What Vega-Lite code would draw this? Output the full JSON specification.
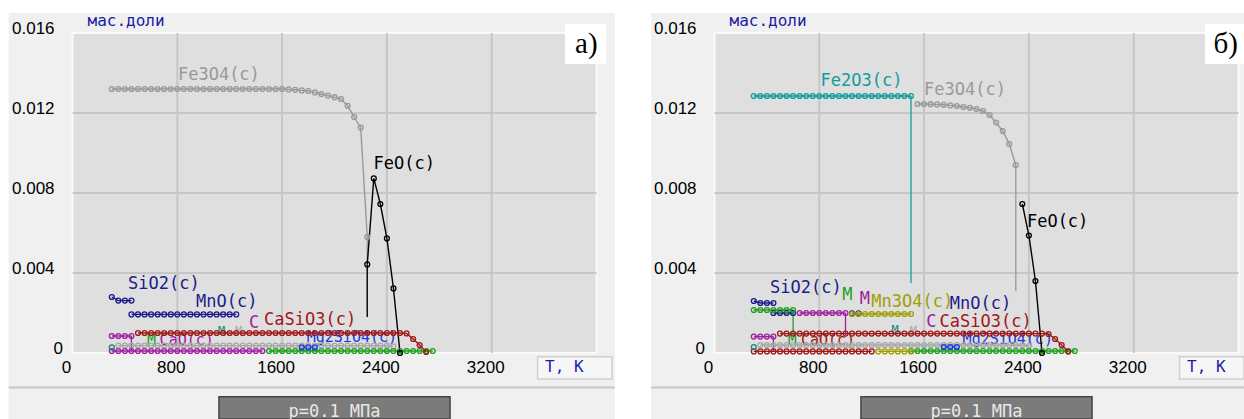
{
"$schema": "https://vega.github.io/schema/vega-lite/v6.json",
"padding": 0,
"spacing": 0,
"bounds": "flush",
"background": "#ffffff",
"config": {"view": {"stroke": null}},
"datasets": {
"ptsA": [
{"s":"MgO","T":350,"v":0.00037},{"s":"MgO","T":400,"v":0.00037},{"s":"MgO","T":450,"v":0.00037},{"s":"MgO","T":500,"v":0.00037},{"s":"MgO","T":550,"v":0.00037},{"s":"MgO","T":600,"v":0.00037},{"s":"MgO","T":650,"v":0.00037},{"s":"MgO","T":700,"v":0.00037},{"s":"MgO","T":750,"v":0.00037},{"s":"MgO","T":800,"v":0.00037},{"s":"MgO","T":850,"v":0.00037},{"s":"MgO","T":900,"v":0.00037},{"s":"MgO","T":950,"v":0.00037},{"s":"MgO","T":1000,"v":0.00037},{"s":"MgO","T":1050,"v":0.00037},{"s":"MgO","T":1100,"v":0.00037},{"s":"MgO","T":1150,"v":0.00037},{"s":"MgO","T":1200,"v":0.00037},{"s":"MgO","T":1250,"v":0.00037},{"s":"MgO","T":1300,"v":0.00037},{"s":"MgO","T":1350,"v":0.00037},{"s":"MgO","T":1400,"v":0.00037},{"s":"MgO","T":1450,"v":0.00037},{"s":"MgO","T":1500,"v":0.00037},{"s":"MgO","T":1550,"v":0.00037},{"s":"MgO","T":1600,"v":0.00037},{"s":"MgO","T":1650,"v":0.00037},{"s":"MgO","T":1700,"v":0.00037},{"s":"MgO","T":1750,"v":0.00037},{"s":"MgO","T":1800,"v":0.00037},{"s":"MgO","T":1850,"v":0.00037},{"s":"MgO","T":1900,"v":0.00037},{"s":"MgO","T":1950,"v":0.00037},{"s":"MgO","T":2000,"v":0.00037},{"s":"MgO","T":2050,"v":0.00037},{"s":"MgO","T":2100,"v":0.00037},{"s":"MgO","T":2150,"v":0.00037},{"s":"MgO","T":2200,"v":0.00037},{"s":"MgO","T":2250,"v":0.00037},{"s":"MgO","T":2300,"v":0.00037},{"s":"MgO","T":2350,"v":0.00037},{"s":"MgO","T":2400,"v":0.00037},{"s":"MgO","T":2450,"v":0.00033},
{"s":"Mn2SiO4","T":1500,"v":0.0001},{"s":"Mn2SiO4","T":1550,"v":0.0001},{"s":"Mn2SiO4","T":1600,"v":0.0001},{"s":"Mn2SiO4","T":1650,"v":0.0001},{"s":"Mn2SiO4","T":1700,"v":0.0001},{"s":"Mn2SiO4","T":1750,"v":0.0001},{"s":"Mn2SiO4","T":1800,"v":0.0001},{"s":"Mn2SiO4","T":1850,"v":0.0001},{"s":"Mn2SiO4","T":1900,"v":0.0001},{"s":"Mn2SiO4","T":1950,"v":0.0001},{"s":"Mn2SiO4","T":2000,"v":0.0001},{"s":"Mn2SiO4","T":2050,"v":0.0001},{"s":"Mn2SiO4","T":2100,"v":0.0001},{"s":"Mn2SiO4","T":2150,"v":0.0001},{"s":"Mn2SiO4","T":2200,"v":0.0001},{"s":"Mn2SiO4","T":2250,"v":0.0001},{"s":"Mn2SiO4","T":2300,"v":0.0001},{"s":"Mn2SiO4","T":2350,"v":0.0001},{"s":"Mn2SiO4","T":2400,"v":0.0001},{"s":"Mn2SiO4","T":2450,"v":0.0001},{"s":"Mn2SiO4","T":2500,"v":0.0001},{"s":"Mn2SiO4","T":2550,"v":0.0001},{"s":"Mn2SiO4","T":2600,"v":0.0001},{"s":"Mn2SiO4","T":2650,"v":0.0001},{"s":"Mn2SiO4","T":2700,"v":0.0001},{"s":"Mn2SiO4","T":2750,"v":0.0001},
{"s":"CaO","T":300,"v":0.0001},{"s":"CaO","T":350,"v":0.0001},{"s":"CaO","T":400,"v":0.0001},{"s":"CaO","T":450,"v":0.0001},{"s":"CaO","T":500,"v":0.0001},{"s":"CaO","T":550,"v":0.0001},{"s":"CaO","T":600,"v":0.0001},{"s":"CaO","T":650,"v":0.0001},{"s":"CaO","T":700,"v":0.0001},{"s":"CaO","T":750,"v":0.0001},{"s":"CaO","T":800,"v":0.0001},{"s":"CaO","T":850,"v":0.0001},{"s":"CaO","T":900,"v":0.0001},{"s":"CaO","T":950,"v":0.0001},{"s":"CaO","T":1000,"v":0.0001},{"s":"CaO","T":1050,"v":0.0001},{"s":"CaO","T":1100,"v":0.0001},{"s":"CaO","T":1150,"v":0.0001},{"s":"CaO","T":1200,"v":0.0001},{"s":"CaO","T":1250,"v":0.0001},{"s":"CaO","T":1300,"v":0.0001},{"s":"CaO","T":1350,"v":0.0001},{"s":"CaO","T":1400,"v":0.0001},{"s":"CaO","T":1450,"v":0.0001},
{"s":"MgAl2O4","T":300,"v":0.00028},
{"s":"Mg2SiO4","T":1750,"v":0.00028},{"s":"Mg2SiO4","T":1800,"v":0.00028},{"s":"Mg2SiO4","T":1850,"v":0.00028},
{"s":"CaCO3","T":300,"v":0.00085},{"s":"CaCO3","T":350,"v":0.00085},{"s":"CaCO3","T":400,"v":0.00085},{"s":"CaCO3","T":450,"v":0.00085},
{"s":"MnO","T":450,"v":0.00193},{"s":"MnO","T":500,"v":0.00193},{"s":"MnO","T":550,"v":0.00193},{"s":"MnO","T":600,"v":0.00193},{"s":"MnO","T":650,"v":0.00193},{"s":"MnO","T":700,"v":0.00193},{"s":"MnO","T":750,"v":0.00193},{"s":"MnO","T":800,"v":0.00193},{"s":"MnO","T":850,"v":0.00193},{"s":"MnO","T":900,"v":0.00193},{"s":"MnO","T":950,"v":0.00193},{"s":"MnO","T":1000,"v":0.00193},{"s":"MnO","T":1050,"v":0.00193},{"s":"MnO","T":1100,"v":0.00193},{"s":"MnO","T":1150,"v":0.00193},{"s":"MnO","T":1200,"v":0.00193},{"s":"MnO","T":1250,"v":0.00193},
{"s":"SiO2","T":300,"v":0.0028},{"s":"SiO2","T":350,"v":0.00262},{"s":"SiO2","T":400,"v":0.00262},{"s":"SiO2","T":450,"v":0.00262},
{"s":"CaSiO3","T":500,"v":0.001},{"s":"CaSiO3","T":550,"v":0.001},{"s":"CaSiO3","T":600,"v":0.001},{"s":"CaSiO3","T":650,"v":0.001},{"s":"CaSiO3","T":700,"v":0.001},{"s":"CaSiO3","T":750,"v":0.001},{"s":"CaSiO3","T":800,"v":0.001},{"s":"CaSiO3","T":850,"v":0.001},{"s":"CaSiO3","T":900,"v":0.001},{"s":"CaSiO3","T":950,"v":0.001},{"s":"CaSiO3","T":1000,"v":0.001},{"s":"CaSiO3","T":1050,"v":0.001},{"s":"CaSiO3","T":1100,"v":0.001},{"s":"CaSiO3","T":1150,"v":0.001},{"s":"CaSiO3","T":1200,"v":0.001},{"s":"CaSiO3","T":1250,"v":0.001},{"s":"CaSiO3","T":1300,"v":0.001},{"s":"CaSiO3","T":1350,"v":0.001},{"s":"CaSiO3","T":1400,"v":0.001},{"s":"CaSiO3","T":1450,"v":0.001},{"s":"CaSiO3","T":1500,"v":0.001},{"s":"CaSiO3","T":1550,"v":0.001},{"s":"CaSiO3","T":1600,"v":0.001},{"s":"CaSiO3","T":1650,"v":0.001},{"s":"CaSiO3","T":1700,"v":0.001},{"s":"CaSiO3","T":1750,"v":0.001},{"s":"CaSiO3","T":1800,"v":0.001},{"s":"CaSiO3","T":1850,"v":0.001},{"s":"CaSiO3","T":1900,"v":0.001},{"s":"CaSiO3","T":1950,"v":0.001},{"s":"CaSiO3","T":2000,"v":0.001},{"s":"CaSiO3","T":2050,"v":0.001},{"s":"CaSiO3","T":2100,"v":0.001},{"s":"CaSiO3","T":2150,"v":0.001},{"s":"CaSiO3","T":2200,"v":0.001},{"s":"CaSiO3","T":2250,"v":0.001},{"s":"CaSiO3","T":2300,"v":0.001},{"s":"CaSiO3","T":2350,"v":0.001},{"s":"CaSiO3","T":2400,"v":0.001},{"s":"CaSiO3","T":2450,"v":0.001},{"s":"CaSiO3","T":2500,"v":0.001},{"s":"CaSiO3","T":2550,"v":0.00098},{"s":"CaSiO3","T":2600,"v":0.0007},{"s":"CaSiO3","T":2650,"v":0.0004},{"s":"CaSiO3","T":2700,"v":0.00005},
{"s":"Fe3O4","T":300,"v":0.0132},{"s":"Fe3O4","T":350,"v":0.0132},{"s":"Fe3O4","T":400,"v":0.0132},{"s":"Fe3O4","T":450,"v":0.0132},{"s":"Fe3O4","T":500,"v":0.0132},{"s":"Fe3O4","T":550,"v":0.0132},{"s":"Fe3O4","T":600,"v":0.0132},{"s":"Fe3O4","T":650,"v":0.0132},{"s":"Fe3O4","T":700,"v":0.0132},{"s":"Fe3O4","T":750,"v":0.0132},{"s":"Fe3O4","T":800,"v":0.0132},{"s":"Fe3O4","T":850,"v":0.0132},{"s":"Fe3O4","T":900,"v":0.0132},{"s":"Fe3O4","T":950,"v":0.0132},{"s":"Fe3O4","T":1000,"v":0.0132},{"s":"Fe3O4","T":1050,"v":0.0132},{"s":"Fe3O4","T":1100,"v":0.0132},{"s":"Fe3O4","T":1150,"v":0.0132},{"s":"Fe3O4","T":1200,"v":0.0132},{"s":"Fe3O4","T":1250,"v":0.0132},{"s":"Fe3O4","T":1300,"v":0.0132},{"s":"Fe3O4","T":1350,"v":0.0132},{"s":"Fe3O4","T":1400,"v":0.0132},{"s":"Fe3O4","T":1450,"v":0.0132},{"s":"Fe3O4","T":1500,"v":0.0132},{"s":"Fe3O4","T":1550,"v":0.0132},{"s":"Fe3O4","T":1600,"v":0.0132},{"s":"Fe3O4","T":1650,"v":0.01318},{"s":"Fe3O4","T":1700,"v":0.01316},{"s":"Fe3O4","T":1750,"v":0.01313},{"s":"Fe3O4","T":1800,"v":0.0131},{"s":"Fe3O4","T":1850,"v":0.01303},{"s":"Fe3O4","T":1900,"v":0.01295},{"s":"Fe3O4","T":1950,"v":0.01287},{"s":"Fe3O4","T":2000,"v":0.01279},{"s":"Fe3O4","T":2050,"v":0.0127},{"s":"Fe3O4","T":2100,"v":0.01236},{"s":"Fe3O4","T":2150,"v":0.0118},{"s":"Fe3O4","T":2200,"v":0.01127},{"s":"Fe3O4","T":2250,"v":0.0058},
{"s":"FeO","T":2250,"v":0.00443},{"s":"FeO","T":2300,"v":0.00873},{"s":"FeO","T":2350,"v":0.00745},{"s":"FeO","T":2400,"v":0.00573},{"s":"FeO","T":2450,"v":0.00323},{"s":"FeO","T":2500,"v":0.0}
],
"ptsB": [
{"s":"MgO","T":350,"v":0.0004},{"s":"MgO","T":400,"v":0.0004},{"s":"MgO","T":450,"v":0.0004},{"s":"MgO","T":500,"v":0.0004},{"s":"MgO","T":550,"v":0.0004},{"s":"MgO","T":600,"v":0.0004},{"s":"MgO","T":650,"v":0.0004},{"s":"MgO","T":700,"v":0.0004},{"s":"MgO","T":750,"v":0.0004},{"s":"MgO","T":800,"v":0.0004},{"s":"MgO","T":850,"v":0.0004},{"s":"MgO","T":900,"v":0.0004},{"s":"MgO","T":950,"v":0.0004},{"s":"MgO","T":1000,"v":0.0004},{"s":"MgO","T":1050,"v":0.0004},{"s":"MgO","T":1100,"v":0.0004},{"s":"MgO","T":1150,"v":0.0004},{"s":"MgO","T":1200,"v":0.0004},{"s":"MgO","T":1250,"v":0.0004},{"s":"MgO","T":1300,"v":0.0004},{"s":"MgO","T":1350,"v":0.0004},{"s":"MgO","T":1400,"v":0.0004},{"s":"MgO","T":1450,"v":0.0004},{"s":"MgO","T":1500,"v":0.0004},{"s":"MgO","T":1550,"v":0.0004},{"s":"MgO","T":1600,"v":0.0004},{"s":"MgO","T":1650,"v":0.0004},{"s":"MgO","T":1700,"v":0.0004},{"s":"MgO","T":1750,"v":0.0004},{"s":"MgO","T":1800,"v":0.0004},{"s":"MgO","T":1850,"v":0.0004},{"s":"MgO","T":1900,"v":0.0004},{"s":"MgO","T":1950,"v":0.0004},{"s":"MgO","T":2000,"v":0.0004},{"s":"MgO","T":2050,"v":0.0004},{"s":"MgO","T":2100,"v":0.0004},{"s":"MgO","T":2150,"v":0.0004},{"s":"MgO","T":2200,"v":0.0004},{"s":"MgO","T":2250,"v":0.0004},{"s":"MgO","T":2300,"v":0.0004},{"s":"MgO","T":2350,"v":0.0004},{"s":"MgO","T":2400,"v":0.00035},
{"s":"Mn2SiO4","T":1500,"v":0.0001},{"s":"Mn2SiO4","T":1550,"v":0.0001},{"s":"Mn2SiO4","T":1600,"v":0.0001},{"s":"Mn2SiO4","T":1650,"v":0.0001},{"s":"Mn2SiO4","T":1700,"v":0.0001},{"s":"Mn2SiO4","T":1750,"v":0.0001},{"s":"Mn2SiO4","T":1800,"v":0.0001},{"s":"Mn2SiO4","T":1850,"v":0.0001},{"s":"Mn2SiO4","T":1900,"v":0.0001},{"s":"Mn2SiO4","T":1950,"v":0.0001},{"s":"Mn2SiO4","T":2000,"v":0.0001},{"s":"Mn2SiO4","T":2050,"v":0.0001},{"s":"Mn2SiO4","T":2100,"v":0.0001},{"s":"Mn2SiO4","T":2150,"v":0.0001},{"s":"Mn2SiO4","T":2200,"v":0.0001},{"s":"Mn2SiO4","T":2250,"v":0.0001},{"s":"Mn2SiO4","T":2300,"v":0.0001},{"s":"Mn2SiO4","T":2350,"v":0.0001},{"s":"Mn2SiO4","T":2400,"v":0.0001},{"s":"Mn2SiO4","T":2450,"v":0.0001},{"s":"Mn2SiO4","T":2500,"v":0.0001},{"s":"Mn2SiO4","T":2550,"v":0.0001},{"s":"Mn2SiO4","T":2600,"v":0.0001},{"s":"Mn2SiO4","T":2650,"v":0.0001},{"s":"Mn2SiO4","T":2700,"v":0.0001},{"s":"Mn2SiO4","T":2750,"v":0.0001},
{"s":"CaOr","T":300,"v":0.00008},{"s":"CaOr","T":350,"v":0.00008},{"s":"CaOr","T":400,"v":0.00008},{"s":"CaOr","T":450,"v":0.00008},{"s":"CaOr","T":500,"v":0.00008},{"s":"CaOr","T":550,"v":0.00008},{"s":"CaOr","T":600,"v":0.00008},{"s":"CaOr","T":650,"v":0.00008},{"s":"CaOr","T":700,"v":0.00008},{"s":"CaOr","T":750,"v":0.00008},{"s":"CaOr","T":800,"v":0.00008},{"s":"CaOr","T":850,"v":0.00008},{"s":"CaOr","T":900,"v":0.00008},{"s":"CaOr","T":950,"v":0.00008},{"s":"CaOr","T":1000,"v":0.00008},{"s":"CaOr","T":1050,"v":0.00008},{"s":"CaOr","T":1100,"v":0.00008},{"s":"CaOr","T":1150,"v":0.00008},{"s":"CaOr","T":1200,"v":0.00008},
{"s":"Mn3O4lo","T":1250,"v":0.00008},{"s":"Mn3O4lo","T":1300,"v":0.00008},{"s":"Mn3O4lo","T":1350,"v":0.00008},{"s":"Mn3O4lo","T":1400,"v":0.00008},{"s":"Mn3O4lo","T":1450,"v":0.00008},{"s":"Mn3O4lo","T":1500,"v":0.00008},
{"s":"MgAl2O4","T":300,"v":0.0003},
{"s":"Mg2SiO4","T":1750,"v":0.0003},{"s":"Mg2SiO4","T":1800,"v":0.0003},{"s":"Mg2SiO4","T":1850,"v":0.0003},
{"s":"CaCO3","T":300,"v":0.00082},{"s":"CaCO3","T":350,"v":0.00082},{"s":"CaCO3","T":400,"v":0.00082},{"s":"CaCO3","T":450,"v":0.00082},
{"s":"MnO","T":450,"v":0.002},{"s":"MnO","T":500,"v":0.002},{"s":"MnO","T":550,"v":0.002},{"s":"MnO","T":600,"v":0.002},
{"s":"MnO2","T":300,"v":0.00215},{"s":"MnO2","T":350,"v":0.00215},{"s":"MnO2","T":400,"v":0.00215},{"s":"MnO2","T":450,"v":0.00215},{"s":"MnO2","T":500,"v":0.00215},{"s":"MnO2","T":550,"v":0.00215},{"s":"MnO2","T":600,"v":0.00215},
{"s":"Mn2O3","T":650,"v":0.002},{"s":"Mn2O3","T":700,"v":0.002},{"s":"Mn2O3","T":750,"v":0.002},{"s":"Mn2O3","T":800,"v":0.002},{"s":"Mn2O3","T":850,"v":0.002},{"s":"Mn2O3","T":900,"v":0.002},{"s":"Mn2O3","T":950,"v":0.002},{"s":"Mn2O3","T":1000,"v":0.002},
{"s":"MnOb","T":1050,"v":0.00198},{"s":"MnOb","T":1100,"v":0.00198},
{"s":"Mn3O4","T":1050,"v":0.00195},{"s":"Mn3O4","T":1100,"v":0.00195},{"s":"Mn3O4","T":1150,"v":0.00195},{"s":"Mn3O4","T":1200,"v":0.00195},{"s":"Mn3O4","T":1250,"v":0.00195},{"s":"Mn3O4","T":1300,"v":0.00195},{"s":"Mn3O4","T":1350,"v":0.00195},{"s":"Mn3O4","T":1400,"v":0.00195},{"s":"Mn3O4","T":1450,"v":0.00195},{"s":"Mn3O4","T":1500,"v":0.00195},
{"s":"SiO2","T":300,"v":0.0026},{"s":"SiO2","T":350,"v":0.0025},{"s":"SiO2","T":400,"v":0.0025},{"s":"SiO2","T":450,"v":0.0025},
{"s":"CaSiO3","T":500,"v":0.00097},{"s":"CaSiO3","T":550,"v":0.00097},{"s":"CaSiO3","T":600,"v":0.00097},{"s":"CaSiO3","T":650,"v":0.00097},{"s":"CaSiO3","T":700,"v":0.00097},{"s":"CaSiO3","T":750,"v":0.00097},{"s":"CaSiO3","T":800,"v":0.00097},{"s":"CaSiO3","T":850,"v":0.00097},{"s":"CaSiO3","T":900,"v":0.00097},{"s":"CaSiO3","T":950,"v":0.00097},{"s":"CaSiO3","T":1000,"v":0.00097},{"s":"CaSiO3","T":1050,"v":0.00097},{"s":"CaSiO3","T":1100,"v":0.00097},{"s":"CaSiO3","T":1150,"v":0.00097},{"s":"CaSiO3","T":1200,"v":0.00097},{"s":"CaSiO3","T":1250,"v":0.00097},{"s":"CaSiO3","T":1300,"v":0.00097},{"s":"CaSiO3","T":1350,"v":0.00097},{"s":"CaSiO3","T":1400,"v":0.00097},{"s":"CaSiO3","T":1450,"v":0.00097},{"s":"CaSiO3","T":1500,"v":0.00097},{"s":"CaSiO3","T":1550,"v":0.00097},{"s":"CaSiO3","T":1600,"v":0.00097},{"s":"CaSiO3","T":1650,"v":0.00097},{"s":"CaSiO3","T":1700,"v":0.00097},{"s":"CaSiO3","T":1750,"v":0.00097},{"s":"CaSiO3","T":1800,"v":0.00097},{"s":"CaSiO3","T":1850,"v":0.00097},{"s":"CaSiO3","T":1900,"v":0.00097},{"s":"CaSiO3","T":1950,"v":0.00097},{"s":"CaSiO3","T":2000,"v":0.00097},{"s":"CaSiO3","T":2050,"v":0.00097},{"s":"CaSiO3","T":2100,"v":0.00097},{"s":"CaSiO3","T":2150,"v":0.00097},{"s":"CaSiO3","T":2200,"v":0.00097},{"s":"CaSiO3","T":2250,"v":0.00097},{"s":"CaSiO3","T":2300,"v":0.00097},{"s":"CaSiO3","T":2350,"v":0.00097},{"s":"CaSiO3","T":2400,"v":0.00097},{"s":"CaSiO3","T":2450,"v":0.00097},{"s":"CaSiO3","T":2500,"v":0.00097},{"s":"CaSiO3","T":2550,"v":0.00095},{"s":"CaSiO3","T":2600,"v":0.0007},{"s":"CaSiO3","T":2650,"v":0.0004},{"s":"CaSiO3","T":2700,"v":0.00007},
{"s":"Fe2O3","T":300,"v":0.01285},{"s":"Fe2O3","T":350,"v":0.01285},{"s":"Fe2O3","T":400,"v":0.01285},{"s":"Fe2O3","T":450,"v":0.01285},{"s":"Fe2O3","T":500,"v":0.01285},{"s":"Fe2O3","T":550,"v":0.01285},{"s":"Fe2O3","T":600,"v":0.01285},{"s":"Fe2O3","T":650,"v":0.01285},{"s":"Fe2O3","T":700,"v":0.01285},{"s":"Fe2O3","T":750,"v":0.01285},{"s":"Fe2O3","T":800,"v":0.01285},{"s":"Fe2O3","T":850,"v":0.01285},{"s":"Fe2O3","T":900,"v":0.01285},{"s":"Fe2O3","T":950,"v":0.01285},{"s":"Fe2O3","T":1000,"v":0.01285},{"s":"Fe2O3","T":1050,"v":0.01285},{"s":"Fe2O3","T":1100,"v":0.01285},{"s":"Fe2O3","T":1150,"v":0.01285},{"s":"Fe2O3","T":1200,"v":0.01285},{"s":"Fe2O3","T":1250,"v":0.01285},{"s":"Fe2O3","T":1300,"v":0.01285},{"s":"Fe2O3","T":1350,"v":0.01285},{"s":"Fe2O3","T":1400,"v":0.01285},{"s":"Fe2O3","T":1450,"v":0.01285},{"s":"Fe2O3","T":1500,"v":0.01285},
{"s":"Fe3O4","T":1550,"v":0.01245},{"s":"Fe3O4","T":1600,"v":0.01245},{"s":"Fe3O4","T":1650,"v":0.01244},{"s":"Fe3O4","T":1700,"v":0.01243},{"s":"Fe3O4","T":1750,"v":0.01241},{"s":"Fe3O4","T":1800,"v":0.01238},{"s":"Fe3O4","T":1850,"v":0.01235},{"s":"Fe3O4","T":1900,"v":0.0123},{"s":"Fe3O4","T":1950,"v":0.01226},{"s":"Fe3O4","T":2000,"v":0.0122},{"s":"Fe3O4","T":2050,"v":0.0121},{"s":"Fe3O4","T":2100,"v":0.0119},{"s":"Fe3O4","T":2150,"v":0.01152},{"s":"Fe3O4","T":2200,"v":0.0111},{"s":"Fe3O4","T":2250,"v":0.01045},{"s":"Fe3O4","T":2300,"v":0.0094},
{"s":"FeO","T":2350,"v":0.00745},{"s":"FeO","T":2400,"v":0.00587},{"s":"FeO","T":2450,"v":0.0036},{"s":"FeO","T":2500,"v":0.0}
],
"dropA": [
{"s":"Fe3O4","T":2250,"v":0.0058,"v2":0.0018},
{"s":"FeO","T":2250,"v":0.00443,"v2":0.0018},
{"s":"CaCO3","T":450,"v":0.00085,"v2":0.0001}
],
"dropB": [
{"s":"Fe2O3","T":1500,"v":0.01285,"v2":0.0035},
{"s":"Fe3O4","T":2300,"v":0.0094,"v2":0.0031},
{"s":"MnO2","T":600,"v":0.00215,"v2":0.0009},
{"s":"Mn2O3","T":1000,"v":0.002,"v2":0.0009},
{"s":"CaCO3","T":450,"v":0.00082,"v2":0.00008}
],
"labSA": [
{"s":"MgAl2O4","t":"M","T":1110,"v":0.00112},
{"s":"MgO","t":"M","T":1240,"v":0.00108}
],
"labUA": [
{"s":"Mg2SiO4","t":"Mg2SiO4(c)","T":1788,"v":0.00078},
{"s":"Mn2SiO4","t":"M","T":569,"v":0.00066},
{"s":"CaO","t":"CaO(c)","T":665,"v":0.00066}
],
"labOA": [
{"s":"Fe3O4","t":"Fe3O4(c)","T":805,"v":0.0139},
{"s":"FeO","t":"FeO(c)","T":2298,"v":0.00945},
{"s":"SiO2","t":"SiO2(c)","T":424,"v":0.00345},
{"s":"MnO","t":"MnO(c)","T":943,"v":0.00255},
{"s":"CaCO3","t":"C","T":1347,"v":0.0015},
{"s":"CaSiO3","t":"CaSiO3(c)","T":1462,"v":0.00165}
],
"labSB": [
{"s":"MgAl2O4","t":"M","T":1352,"v":0.00115},
{"s":"MgO","t":"M","T":1490,"v":0.00112}
],
"labUB": [
{"s":"Mg2SiO4","t":"Mg2SiO4(c)","T":1894,"v":0.0007},
{"s":"MnO2","t":"M","T":560,"v":0.00066},
{"s":"CaOr","t":"CaO(c)","T":660,"v":0.00066}
],
"labOB": [
{"s":"Fe2O3","t":"Fe2O3(c)","T":810,"v":0.0136},
{"s":"Fe3O4","t":"Fe3O4(c)","T":1600,"v":0.01315},
{"s":"FeO","t":"FeO(c)","T":2385,"v":0.00655},
{"s":"SiO2","t":"SiO2(c)","T":424,"v":0.00325},
{"s":"MnO","t":"MnO(c)","T":1796,"v":0.00245},
{"s":"MnO2","t":"M","T":976,"v":0.0029},
{"s":"Mn2O3","t":"M","T":1108,"v":0.00268},
{"s":"Mn3O4","t":"Mn3O4(c)","T":1197,"v":0.00257},
{"s":"CaCO3","t":"C","T":1617,"v":0.00154},
{"s":"CaSiO3","t":"CaSiO3(c)","T":1718,"v":0.00154}
],
"tickX": [{"T":0},{"T":800},{"T":1600},{"T":2400},{"T":3200}],
"tickY": [{"v":0.004},{"v":0.008},{"v":0.012},{"v":0.016}],
"tickY0": [{"v":0}]
},
"hconcat": [
{
"width": 642, "height": 419,
"layer": [
{"data":{"values":[{}]},"mark":{"type":"rect","fill":"#f0f0f0"},
 "encoding":{"x":{"datum":-487,"type":"quantitative","scale":{"domain":[-553.4,4347.3],"nice":false,"zero":false},"axis":null},"x2":{"datum":4140},"y":{"datum":-0.0033,"type":"quantitative","scale":{"domain":[-0.0033,0.01765],"nice":false,"zero":false},"axis":null},"y2":{"datum":0.017}}},
{"data":{"values":[{}]},"mark":{"type":"rule","color":"#c6c6c6","strokeWidth":2},
 "encoding":{"x":{"datum":-487,"type":"quantitative","axis":null},"x2":{"datum":4140},"y":{"datum":-0.00172,"type":"quantitative","axis":null}}},
{"data":{"values":[{}]},"mark":{"type":"rect","fill":"#dfdfdf","stroke":"#fafafa","strokeWidth":2},
 "encoding":{"x":{"datum":0,"type":"quantitative","axis":null},"x2":{"datum":4000},"y":{"datum":0,"type":"quantitative","axis":null},"y2":{"datum":0.016}}},
{"data":{"values":[{"T":800},{"T":1600},{"T":2400},{"T":3200}]},"mark":{"type":"rule","color":"#c6c6c6","strokeWidth":2},
 "encoding":{"x":{"field":"T","type":"quantitative","axis":null},"y":{"datum":0,"type":"quantitative","axis":null},"y2":{"datum":0.016}}},
{"data":{"values":[{"v":0.004},{"v":0.008},{"v":0.012}]},"mark":{"type":"rule","color":"#c6c6c6","strokeWidth":2},
 "encoding":{"x":{"datum":0,"type":"quantitative","axis":null},"x2":{"datum":4000},"y":{"field":"v","type":"quantitative","axis":null}}},
{"data":{"name":"tickX"},"mark":{"type":"text","align":"center","baseline":"middle","dx":-6,"font":"Liberation Sans","fontSize":17,"color":"#000000"},
 "encoding":{"x":{"field":"T","type":"quantitative","axis":null},"y":{"datum":-0.00075,"type":"quantitative","axis":null},"text":{"field":"T","type":"quantitative","format":"d"}}},
{"data":{"name":"tickY"},"mark":{"type":"text","align":"right","baseline":"middle","dy":-4.5,"font":"Liberation Sans","fontSize":17,"color":"#000000"},
 "encoding":{"x":{"datum":-137,"type":"quantitative","axis":null},"y":{"field":"v","type":"quantitative","axis":null},"text":{"field":"v","type":"quantitative","format":".3f"}}},
{"data":{"name":"tickY0"},"mark":{"type":"text","align":"right","baseline":"middle","dy":-4.5,"font":"Liberation Sans","fontSize":17,"color":"#000000"},
 "encoding":{"x":{"datum":-72,"type":"quantitative","axis":null},"y":{"field":"v","type":"quantitative","axis":null},"text":{"field":"v","type":"quantitative","format":"d"}}},
{"data":{"name":"labSA"},"mark":{"type":"text","align":"left","baseline":"middle","font":"DejaVu Sans Mono","fontSize":12},
 "encoding":{"x":{"field":"T","type":"quantitative","axis":null},"y":{"field":"v","type":"quantitative","axis":null},"text":{"field":"t"},
  "color":{"field":"s","type":"nominal","legend":null,"scale":{"domain":["Fe3O4","FeO","SiO2","MnO","CaSiO3","CaCO3","CaO","MgO","Mn2SiO4","Mg2SiO4","MgAl2O4","Fe2O3","MnO2","Mn2O3","Mn3O4","CaOr","Mn3O4lo","MnOb"],"range":["#999999","#000000","#1c1c8c","#1c1c8c","#a01818","#a020a0","#a020a0","#a8a8a8","#20a020","#1838e0","#108888","#119c9c","#20a020","#a020a0","#a0a000","#a01818","#a0a000","#1c1c8c"]}}}},
{"data":{"name":"labUA"},"mark":{"type":"text","align":"left","baseline":"middle","font":"DejaVu Sans Mono","fontSize":15},
 "encoding":{"x":{"field":"T","type":"quantitative","axis":null},"y":{"field":"v","type":"quantitative","axis":null},"text":{"field":"t"},"color":{"field":"s","type":"nominal","legend":null}}},
{"data":{"name":"dropA"},"mark":{"type":"rule","strokeWidth":1.3},
 "encoding":{"x":{"field":"T","type":"quantitative","axis":null},"y":{"field":"v","type":"quantitative","axis":null},"y2":{"field":"v2"},"color":{"field":"s","type":"nominal","legend":null}}},
{"data":{"name":"ptsA"},"mark":{"type":"line","strokeWidth":1.4},
 "encoding":{"x":{"field":"T","type":"quantitative","axis":null},"y":{"field":"v","type":"quantitative","axis":null},"color":{"field":"s","type":"nominal","legend":null}}},
{"data":{"name":"ptsA"},"mark":{"type":"point","shape":"circle","filled":false,"size":24,"strokeWidth":1.3,"opacity":1},
 "encoding":{"x":{"field":"T","type":"quantitative","axis":null},"y":{"field":"v","type":"quantitative","axis":null},"color":{"field":"s","type":"nominal","legend":null}}},
{"data":{"name":"labOA"},"mark":{"type":"text","align":"left","baseline":"middle","font":"DejaVu Sans Mono","fontSize":17},
 "encoding":{"x":{"field":"T","type":"quantitative","axis":null},"y":{"field":"v","type":"quantitative","axis":null},"text":{"field":"t"},"color":{"field":"s","type":"nominal","legend":null}}},
{"data":{"values":[{}]},"mark":{"type":"rect","fill":"#f6f6f6","stroke":"#cfcfcf","strokeWidth":1.5},
 "encoding":{"x":{"datum":3550,"type":"quantitative","axis":null},"x2":{"datum":4118},"y":{"datum":-0.000185,"type":"quantitative","axis":null},"y2":{"datum":-0.0013}}},
{"data":{"values":[{}]},"mark":{"type":"text","text":"T, K","align":"left","baseline":"middle","font":"DejaVu Sans Mono","fontSize":16,"color":"#1c1ca8"},
 "encoding":{"x":{"datum":3607,"type":"quantitative","axis":null},"y":{"datum":-0.0007,"type":"quantitative","axis":null}}},
{"data":{"values":[{}]},"mark":{"type":"rect","fill":"#ffffff"},
 "encoding":{"x":{"datum":3760,"type":"quantitative","axis":null},"x2":{"datum":4073},"y":{"datum":0.01445,"type":"quantitative","axis":null},"y2":{"datum":0.01645}}},
{"data":{"values":[{}]},"mark":{"type":"text","text":"a)","align":"left","baseline":"middle","font":"Liberation Serif","fontSize":29,"color":"#000000"},
 "encoding":{"x":{"datum":3836,"type":"quantitative","axis":null},"y":{"datum":0.01545,"type":"quantitative","axis":null}}},
{"data":{"values":[{}]},"mark":{"type":"rect","fill":"#7b7b7b","stroke":"#454545","strokeWidth":1.5},
 "encoding":{"x":{"datum":1118,"type":"quantitative","axis":null},"x2":{"datum":2882},"y":{"datum":-0.00219,"type":"quantitative","axis":null},"y2":{"datum":-0.0033}}},
{"data":{"values":[{}]},"mark":{"type":"text","text":"p=0.1 МПа","align":"center","baseline":"middle","font":"DejaVu Sans Mono","fontSize":17,"color":"#e8e8e8"},
 "encoding":{"x":{"datum":2000,"type":"quantitative","axis":null},"y":{"datum":-0.00294,"type":"quantitative","axis":null}}},
{"data":{"values":[{}]},"mark":{"type":"text","text":"мас.доли","align":"left","baseline":"middle","font":"DejaVu Sans Mono","fontSize":16,"color":"#1c1ca0"},
 "encoding":{"x":{"datum":115,"type":"quantitative","axis":null},"y":{"datum":0.0166,"type":"quantitative","axis":null}}}
]
},
{
"width": 602, "height": 419,
"layer": [
{"data":{"values":[{}]},"mark":{"type":"rect","fill":"#f0f0f0"},
 "encoding":{"x":{"datum":-484,"type":"quantitative","scale":{"domain":[-553.4,4042],"nice":false,"zero":false},"axis":null},"x2":{"datum":4042},"y":{"datum":-0.0033,"type":"quantitative","scale":{"domain":[-0.0033,0.01765],"nice":false,"zero":false},"axis":null},"y2":{"datum":0.017}}},
{"data":{"values":[{}]},"mark":{"type":"rule","color":"#c6c6c6","strokeWidth":2},
 "encoding":{"x":{"datum":-484,"type":"quantitative","axis":null},"x2":{"datum":4042},"y":{"datum":-0.00172,"type":"quantitative","axis":null}}},
{"data":{"values":[{}]},"mark":{"type":"rect","fill":"#dfdfdf","stroke":"#fafafa","strokeWidth":2},
 "encoding":{"x":{"datum":0,"type":"quantitative","axis":null},"x2":{"datum":4000},"y":{"datum":0,"type":"quantitative","axis":null},"y2":{"datum":0.016}}},
{"data":{"values":[{"T":800},{"T":1600},{"T":2400},{"T":3200}]},"mark":{"type":"rule","color":"#c6c6c6","strokeWidth":2},
 "encoding":{"x":{"field":"T","type":"quantitative","axis":null},"y":{"datum":0,"type":"quantitative","axis":null},"y2":{"datum":0.016}}},
{"data":{"values":[{"v":0.004},{"v":0.008},{"v":0.012}]},"mark":{"type":"rule","color":"#c6c6c6","strokeWidth":2},
 "encoding":{"x":{"datum":0,"type":"quantitative","axis":null},"x2":{"datum":4000},"y":{"field":"v","type":"quantitative","axis":null}}},
{"data":{"name":"tickX"},"mark":{"type":"text","align":"center","baseline":"middle","dx":-6,"font":"Liberation Sans","fontSize":17,"color":"#000000"},
 "encoding":{"x":{"field":"T","type":"quantitative","axis":null},"y":{"datum":-0.00075,"type":"quantitative","axis":null},"text":{"field":"T","type":"quantitative","format":"d"}}},
{"data":{"name":"tickY"},"mark":{"type":"text","align":"right","baseline":"middle","dy":-4.5,"font":"Liberation Sans","fontSize":17,"color":"#000000"},
 "encoding":{"x":{"datum":-137,"type":"quantitative","axis":null},"y":{"field":"v","type":"quantitative","axis":null},"text":{"field":"v","type":"quantitative","format":".3f"}}},
{"data":{"name":"tickY0"},"mark":{"type":"text","align":"right","baseline":"middle","dy":-4.5,"font":"Liberation Sans","fontSize":17,"color":"#000000"},
 "encoding":{"x":{"datum":-72,"type":"quantitative","axis":null},"y":{"field":"v","type":"quantitative","axis":null},"text":{"field":"v","type":"quantitative","format":"d"}}},
{"data":{"name":"labSB"},"mark":{"type":"text","align":"left","baseline":"middle","font":"DejaVu Sans Mono","fontSize":12},
 "encoding":{"x":{"field":"T","type":"quantitative","axis":null},"y":{"field":"v","type":"quantitative","axis":null},"text":{"field":"t"},
  "color":{"field":"s","type":"nominal","legend":null,"scale":{"domain":["Fe3O4","FeO","SiO2","MnO","CaSiO3","CaCO3","CaO","MgO","Mn2SiO4","Mg2SiO4","MgAl2O4","Fe2O3","MnO2","Mn2O3","Mn3O4","CaOr","Mn3O4lo","MnOb"],"range":["#999999","#000000","#1c1c8c","#1c1c8c","#a01818","#a020a0","#a020a0","#a8a8a8","#20a020","#1838e0","#108888","#119c9c","#20a020","#a020a0","#a0a000","#a01818","#a0a000","#1c1c8c"]}}}},
{"data":{"name":"labUB"},"mark":{"type":"text","align":"left","baseline":"middle","font":"DejaVu Sans Mono","fontSize":15},
 "encoding":{"x":{"field":"T","type":"quantitative","axis":null},"y":{"field":"v","type":"quantitative","axis":null},"text":{"field":"t"},"color":{"field":"s","type":"nominal","legend":null}}},
{"data":{"name":"dropB"},"mark":{"type":"rule","strokeWidth":1.3},
 "encoding":{"x":{"field":"T","type":"quantitative","axis":null},"y":{"field":"v","type":"quantitative","axis":null},"y2":{"field":"v2"},"color":{"field":"s","type":"nominal","legend":null}}},
{"data":{"name":"ptsB"},"mark":{"type":"line","strokeWidth":1.4},
 "encoding":{"x":{"field":"T","type":"quantitative","axis":null},"y":{"field":"v","type":"quantitative","axis":null},"color":{"field":"s","type":"nominal","legend":null}}},
{"data":{"name":"ptsB"},"mark":{"type":"point","shape":"circle","filled":false,"size":24,"strokeWidth":1.3,"opacity":1},
 "encoding":{"x":{"field":"T","type":"quantitative","axis":null},"y":{"field":"v","type":"quantitative","axis":null},"color":{"field":"s","type":"nominal","legend":null}}},
{"data":{"name":"labOB"},"mark":{"type":"text","align":"left","baseline":"middle","font":"DejaVu Sans Mono","fontSize":17},
 "encoding":{"x":{"field":"T","type":"quantitative","axis":null},"y":{"field":"v","type":"quantitative","axis":null},"text":{"field":"t"},"color":{"field":"s","type":"nominal","legend":null}}},
{"data":{"values":[{}]},"mark":{"type":"rect","fill":"#f6f6f6","stroke":"#cfcfcf","strokeWidth":1.5},
 "encoding":{"x":{"datum":3550,"type":"quantitative","axis":null},"x2":{"datum":4042},"y":{"datum":-0.000185,"type":"quantitative","axis":null},"y2":{"datum":-0.0013}}},
{"data":{"values":[{}]},"mark":{"type":"text","text":"T, K","align":"left","baseline":"middle","font":"DejaVu Sans Mono","fontSize":16,"color":"#1c1ca8"},
 "encoding":{"x":{"datum":3607,"type":"quantitative","axis":null},"y":{"datum":-0.0007,"type":"quantitative","axis":null}}},
{"data":{"values":[{}]},"mark":{"type":"rect","fill":"#ffffff"},
 "encoding":{"x":{"datum":3745,"type":"quantitative","axis":null},"x2":{"datum":4042},"y":{"datum":0.01445,"type":"quantitative","axis":null},"y2":{"datum":0.01645}}},
{"data":{"values":[{}]},"mark":{"type":"text","text":"б)","align":"left","baseline":"middle","font":"Liberation Serif","fontSize":29,"color":"#000000"},
 "encoding":{"x":{"datum":3810,"type":"quantitative","axis":null},"y":{"datum":0.01545,"type":"quantitative","axis":null}}},
{"data":{"values":[{}]},"mark":{"type":"rect","fill":"#7b7b7b","stroke":"#454545","strokeWidth":1.5},
 "encoding":{"x":{"datum":1118,"type":"quantitative","axis":null},"x2":{"datum":2882},"y":{"datum":-0.00219,"type":"quantitative","axis":null},"y2":{"datum":-0.0033}}},
{"data":{"values":[{}]},"mark":{"type":"text","text":"p=0.1 МПа","align":"center","baseline":"middle","font":"DejaVu Sans Mono","fontSize":17,"color":"#e8e8e8"},
 "encoding":{"x":{"datum":2000,"type":"quantitative","axis":null},"y":{"datum":-0.00294,"type":"quantitative","axis":null}}},
{"data":{"values":[{}]},"mark":{"type":"text","text":"мас.доли","align":"left","baseline":"middle","font":"DejaVu Sans Mono","fontSize":16,"color":"#1c1ca0"},
 "encoding":{"x":{"datum":115,"type":"quantitative","axis":null},"y":{"datum":0.0166,"type":"quantitative","axis":null}}}
]
}
]
}
